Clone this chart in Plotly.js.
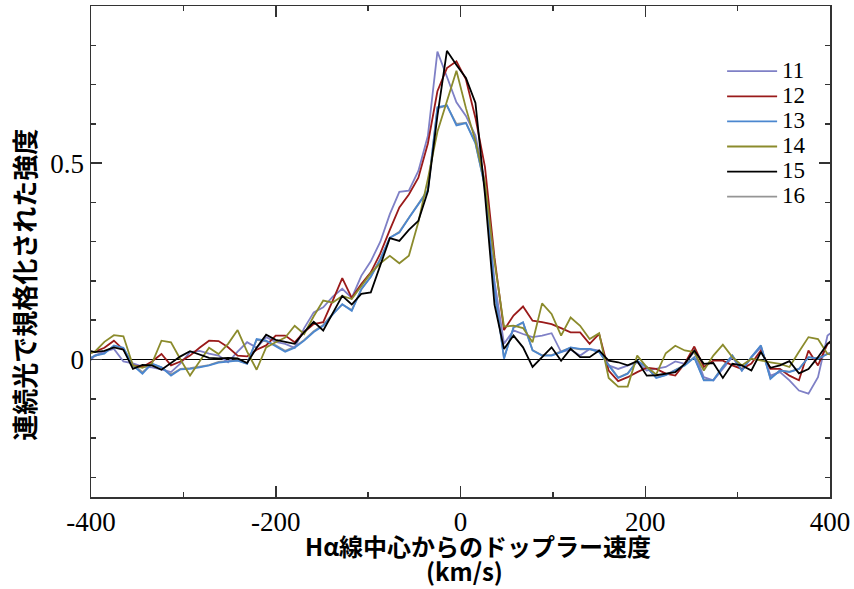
<!DOCTYPE html>
<html><head><meta charset="utf-8">
<script src="https://cdn.plot.ly/plotly-3.0.1.min.js"></script>
<style>html,body{margin:0;padding:0;background:#fff}#chart{width:854px;height:589px}</style>
</head><body><div id="chart"></div>
<script>
// Doppler velocity from H-alpha line centre (km/s)
const velocity = [-406.1,-395.8,-385.5,-375.2,-364.9,-354.6,-344.3,-334.0,-323.7,-313.4,-303.1,-292.8,-282.5,-272.2,-261.9,-251.6,-241.3,-231.0,-220.7,-210.4,-200.1,-189.8,-179.5,-169.2,-158.9,-148.6,-138.3,-128.0,-117.7,-107.4,-97.1,-86.8,-76.5,-66.2,-55.9,-45.6,-35.3,-25.0,
  -14.7,-4.4,5.9,16.2,26.5,36.8,47.1,57.4,67.7,78.0,88.3,98.6,108.9,119.2,129.5,139.8,150.1,160.4,170.7,181.0,191.3,201.6,211.9,222.2,232.5,242.8,253.1,263.4,273.7,284.0,294.3,304.6,314.9,325.2,335.5,345.8,356.1,366.4,376.7,387.0,397.3,407.6];

const s11 = [-0.015,0.01,0.02,0.027,-0.005,-0.01,-0.018,-0.02,-0.025,-0.032,-0.01,0.019,0.022,0.015,0.01,-0.007,0.02,0.044,0.03,0.057,
  0.045,0.04,0.03,0.08,0.12,0.133,0.16,0.18,0.157,0.213,0.25,0.3,0.37,0.427,0.43,0.48,0.57,0.784,
  0.72,0.655,0.62,0.57,0.45,0.2,0.04,0.074,0.065,0.057,
  0.061,0.067,0.019,0.025,0.01,0.027,0.023,-0.015,-0.024,-0.015,
  -0.007,-0.028,-0.024,-0.019,-0.005,-0.011,0.02,-0.045,-0.053,-0.024,
  0.006,-0.028,0.006,0.031,-0.041,-0.032,-0.053,-0.079,-0.087,-0.045,
  0.061,0.08];
const s12 = [0.014,0.02,0.03,0.048,0.025,-0.015,-0.019,-0.005,0.014,-0.015,-0.005,0.01,0.03,0.048,0.047,0.031,0.01,0.008,0.025,0.036,
  0.061,0.061,0.044,0.07,0.09,0.095,0.15,0.207,0.157,0.192,0.222,0.27,0.33,0.387,0.42,0.463,0.55,0.683,
  0.742,0.759,0.713,0.615,0.49,0.26,0.075,0.112,0.135,0.099,
  0.095,0.09,0.08,0.069,0.069,0.04,0.065,-0.028,-0.055,-0.045,
  -0.032,-0.021,-0.024,-0.036,-0.041,-0.01,0.033,-0.019,-0.003,-0.003,
  -0.015,-0.024,-0.01,0.023,-0.024,-0.024,-0.041,-0.053,0.023,-0.015,
  0.04,0.05];
const s13 = [-0.005,0.01,0.015,0.036,0.03,-0.015,-0.036,-0.01,-0.02,-0.041,-0.025,-0.024,-0.02,-0.015,-0.008,-0.005,-0.003,-0.011,0.052,0.048,
  0.035,0.02,0.03,0.048,0.07,0.086,0.115,0.141,0.124,0.179,0.21,0.255,0.31,0.323,0.36,0.395,0.43,0.642,
  0.647,0.596,0.602,0.55,0.44,0.18,0.002,0.082,0.095,0.023,
  0.01,0.01,0.019,0.031,0.027,0.027,0.019,-0.015,-0.047,-0.036,
  -0.003,-0.019,-0.047,-0.04,-0.028,-0.015,0.005,-0.053,-0.053,-0.019,
  0.01,-0.028,0.006,0.036,-0.049,-0.028,-0.032,-0.024,0.006,0.002,
  0.014,0.02];
const s14 = [0.012,0.02,0.045,0.062,0.059,-0.015,-0.021,-0.01,0.048,0.044,0.0,-0.041,-0.005,0.03,0.014,0.04,0.075,0.02,-0.026,0.031,
  0.044,0.056,0.086,0.065,0.11,0.15,0.145,0.162,0.154,0.188,0.22,0.245,0.264,0.245,0.264,0.35,0.46,0.58,
  0.66,0.735,0.64,0.556,0.45,0.25,0.084,0.086,0.08,0.044,
  0.143,0.116,0.061,0.107,0.086,0.052,0.067,-0.047,-0.069,-0.069,
  0.01,-0.019,-0.038,0.016,0.035,0.023,0.019,-0.028,0.01,0.038,
  0.006,-0.015,0.002,-0.003,-0.007,-0.011,-0.019,0.02,0.057,0.052,
  0.014,0.01];
const s15 = [0.025,0.019,0.022,0.031,0.025,-0.024,-0.014,-0.015,-0.026,-0.01,0.008,0.021,0.012,0.004,0.003,0.004,0.003,-0.009,0.03,0.063,
  0.05,0.045,0.04,0.07,0.096,0.074,0.12,0.162,0.14,0.167,0.171,0.24,0.309,0.302,0.33,0.353,0.428,0.62,
  0.786,0.75,0.717,0.653,0.42,0.14,0.027,0.061,0.031,-0.019,
  0.006,0.031,-0.003,0.027,0.006,0.006,0.023,-0.003,-0.007,-0.015,
  -0.004,-0.041,-0.04,-0.036,-0.032,-0.011,0.023,-0.011,-0.009,-0.047,
  -0.011,-0.015,-0.028,0.019,-0.021,-0.015,-0.004,-0.035,-0.024,0.006,
  0.04,0.06];
const s16 = [0.0,0.01,0.018,0.034,0.028,-0.012,-0.032,-0.012,-0.02,-0.038,-0.024,-0.022,-0.018,-0.014,-0.006,-0.004,-0.002,-0.01,0.05,0.046,
  0.036,0.022,0.032,0.05,0.072,0.088,0.116,0.14,0.126,0.178,0.212,0.256,0.31,0.325,0.36,0.396,0.432,0.64,
  0.646,0.6,0.603,0.552,0.44,0.18,0.004,0.081,0.094,0.024,
  0.011,0.011,0.02,0.03,0.026,0.026,0.02,-0.014,-0.046,-0.035,
  -0.004,-0.02,-0.046,-0.039,-0.027,-0.014,0.006,-0.051,-0.052,-0.018,
  0.01,-0.027,0.006,0.035,-0.047,-0.028,-0.031,-0.024,0.006,0.003,
  0.015,0.021];

const seriesNames = ['11','12','13','14','15','16'];
const seriesValues = [s11, s12, s13, s14, s15, s16];

const xTickVals = [-400, -200, 0, 200, 400];
const xTickText = ['-400', '-200', '0', '200', '400'];
const xMinorVals = [-300, -100, 100, 300];
const yTickVals = [0, 0.5];
const yTickText = ['0', '0.5'];
const yMinorVals = [-0.3, -0.2, -0.1, 0.1, 0.2, 0.3, 0.4, 0.6, 0.7, 0.8];

const xTitle = 'Hα線中心からのドップラー速度';
const xUnit = '(km/s)';
const yTitle = '連続光で規格化された強度';

// styles
const colors = ['#7f80c6', '#9a1a1a', '#4b87cf', '#8b8b2c', '#000000', '#959595'];
const drawOrder = [5, 0, 1, 2, 3, 4];

const traces = drawOrder.map(i => ({
  type: 'scatter', mode: 'lines',
  x: velocity, y: seriesValues[i],
  name: '<span style="font-size:23px">' + seriesNames[i] + '</span>',
  legendrank: i + 1,
  line: {color: colors[i], width: 1.8},
  hoverinfo: 'x+y'
}));

const axisColor = '#333';
const tickFont = {family: 'Liberation Serif, Times New Roman, serif', size: 27, color: '#000'};
const titleFont = {family: 'Noto Sans CJK JP, sans-serif', size: 24, color: '#000', weight: 'bold'};
const yTitleFont = {family: 'Noto Sans CJK JP, sans-serif', size: 26, color: '#000', weight: 'bold'};

const layout = {
  width: 854, height: 589,
  margin: {l: 91, r: 24, t: 6, b: 92, pad: 0},
  paper_bgcolor: '#fff', plot_bgcolor: '#fff',
  showlegend: true,
  legend: {x: 0.854, y: 0.903, xanchor: 'left', yanchor: 'top', itemwidth: 50,
    font: {family: 'Liberation Serif, Times New Roman, serif', size: 17, color: '#000'},
    bgcolor: 'rgba(0,0,0,0)', borderwidth: 0, traceorder: 'normal'},
  xaxis: {range: [-400, 400], tickmode: 'array', tickvals: xTickVals, ticktext: xTickText,
    ticks: 'inside', ticklen: 11, tickwidth: 1.5, tickcolor: axisColor,
    showline: true, linecolor: axisColor, linewidth: 1.5, mirror: 'ticks',
    showgrid: false, zeroline: false, tickfont: tickFont,
    minor: {tickmode: 'array', tickvals: xMinorVals, ticks: 'inside', ticklen: 5, tickwidth: 1.5, tickcolor: axisColor, showgrid: false}},
  yaxis: {range: [-0.35, 0.9], tickmode: 'array', tickvals: yTickVals, ticktext: yTickText,
    ticks: 'inside', ticklen: 11, tickwidth: 1.5, tickcolor: axisColor,
    showline: true, linecolor: axisColor, linewidth: 1.5, mirror: 'ticks',
    showgrid: false, zeroline: true, zerolinecolor: '#000', zerolinewidth: 1.5, tickfont: tickFont,
    minor: {tickmode: 'array', tickvals: yMinorVals, ticks: 'inside', ticklen: 5, tickwidth: 1.5, tickcolor: axisColor, showgrid: false}},
  annotations: [
    {text: '<b>' + yTitle + '</b>', xref: 'paper', yref: 'paper', x: -0.0910, y: 0.432,
      xanchor: 'center', yanchor: 'middle', textangle: -90, showarrow: false, font: yTitleFont},
    {text: '<b>' + xTitle + '</b>', xref: 'paper', yref: 'paper', x: 0.5237, y: -0.0978,
      xanchor: 'center', yanchor: 'middle', showarrow: false, font: titleFont},
    {text: '<b>' + xUnit + '</b>', xref: 'paper', yref: 'paper', x: 0.506, y: -0.1507,
      xanchor: 'center', yanchor: 'middle', showarrow: false, font: titleFont}
  ]
};

Plotly.newPlot('chart', traces, layout, {displayModeBar: false, staticPlot: true});
</script>
</body></html>
